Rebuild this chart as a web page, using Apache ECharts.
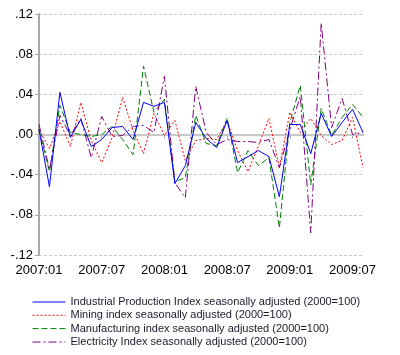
<!DOCTYPE html>
<html>
<head>
<meta charset="utf-8">
<script src="https://cdn.jsdelivr.net/npm/echarts@6/dist/echarts.min.js"></script>
<style>
html,body{margin:0;padding:0;background:#fff;}
#c{width:400px;height:355px;}
</style>
</head>
<body>
<div id="c"></div>
<script>
// Monthly periods 2007:01 .. 2009:08
const months = [
  "2007:01","2007:02","2007:03","2007:04","2007:05","2007:06","2007:07","2007:08","2007:09","2007:10","2007:11","2007:12",
  "2008:01","2008:02","2008:03","2008:04","2008:05","2008:06","2008:07","2008:08","2008:09","2008:10","2008:11","2008:12",
  "2009:01","2009:02","2009:03","2009:04","2009:05","2009:06","2009:07","2009:08"
];
const industrial = [0.005,-0.052,0.042,-0.003,0.015,-0.012,-0.005,0.007,0.008,-0.005,0.032,0.028,
  0.032,-0.049,-0.031,0.012,-0.004,-0.013,0.014,-0.028,-0.022,-0.016,-0.022,-0.062,
  0.010,0.010,-0.019,0.021,-0.002,0.012,0.025,0.002];
const mining = [0.005,-0.014,0.013,-0.012,0.032,-0.006,-0.028,-0.003,0.037,0.004,-0.019,0.021,
  -0.001,0.014,-0.026,-0.006,-0.004,-0.005,0.014,-0.016,-0.037,-0.011,0.016,-0.033,
  0.022,0.002,0.016,-0.001,-0.010,-0.006,0.017,-0.033];
const manufacturing = [0.005,-0.037,0.029,0.002,0.000,-0.002,0.000,0.008,-0.005,-0.020,0.068,0.022,
  0.035,-0.047,-0.043,0.019,-0.009,-0.011,0.016,-0.038,-0.016,-0.031,-0.023,-0.093,
  0.012,0.049,-0.050,0.026,-0.001,0.017,0.030,0.017];
const electricity = [0.010,-0.035,0.019,-0.001,0.016,-0.023,0.018,-0.002,-0.001,0.008,0.009,0.002,
  0.058,-0.048,-0.063,0.048,0.002,-0.010,-0.005,-0.007,-0.007,-0.008,-0.005,-0.033,
  0.005,0.038,-0.098,0.111,0.007,0.036,0.000,0.002];
const seriesNames = [
  "Industrial Production Index seasonally adjusted (2000=100)",
  "Mining index seasonally adjusted (2000=100)",
  "Manufacturing index seasonally adjusted (2000=100)",
  "Electricity Index seasonally adjusted (2000=100)"
];
const yTicks = {min: -0.12, max: 0.12, interval: 0.04};

function fmtY(v){
  const s = Math.abs(v).toFixed(2).replace(/^0/, "");
  return (v < -1e-9 ? "-" : "") + s;
}

const chart = echarts.init(document.getElementById('c'), null, {renderer:'canvas'});
const font = "'Liberation Sans', Arial, sans-serif";
function lineSeries(name, data, color, type, extra){
  return Object.assign({
    name: name, type: 'line', data: data, symbol: 'none', showSymbol: false,
    lineStyle: {color: color, width: 1, type: type},
    itemStyle: {color: color},
    animation: false, z: 3
  }, extra || {});
}
const legendTops = [296, 309.3, 322.6, 336];
const legends = seriesNames.map(function(n, i){
  return {
    orient: 'vertical', left: 32, top: legendTops[i], padding: 0,
    itemWidth: 33, itemHeight: 11, itemGap: 0, itemTextGap: 6,
    itemStyle: {opacity: 0},
    lineStyle: {width: 1},
    textStyle: {fontSize: 11, lineHeight: 12, fontFamily: font, color: '#1a1a2a'},
    data: [n]
  };
});
chart.setOption({
  animation: false,
  backgroundColor: '#fff',
  grid: {left: 39, right: 37, top: 14, bottom: 100, containLabel: false},
  xAxis: {
    type: 'category', data: months, boundaryGap: false,
    axisLine: {lineStyle: {color: '#a8a8a8', width: 2}},
    axisTick: {show: true, interval: 5, length: 4, lineStyle: {color: '#a8a8a8', width: 1}},
    axisLabel: {interval: 5, color: '#000', fontSize: 13, fontFamily: font, margin: 9},
    splitLine: {show: false}
  },
  yAxis: {
    type: 'value', min: yTicks.min, max: yTicks.max, interval: yTicks.interval,
    axisLine: {show: true, onZero: false, lineStyle: {color: '#a8a8a8', width: 2}},
    axisTick: {show: true, length: 4, lineStyle: {color: '#a8a8a8', width: 1}},
    axisLabel: {color: '#000', fontSize: 13, fontFamily: font, margin: 6, formatter: fmtY},
    splitLine: {show: true, lineStyle: {color: '#c8c8c8', type: [3,2], width: 1}}
  },
  legend: legends,
  series: [
    lineSeries(seriesNames[0], industrial, '#0000ff', 'solid', {
      z: 4,
      markLine: {
        silent: true, symbol: 'none', label: {show: false}, animation: false,
        lineStyle: {color: '#c8c8c8', width: 2, type: 'solid'},
        data: [{yAxis: 0}], z: 1
      }
    }),
    lineSeries(seriesNames[1], mining, '#ff0000', [2,2]),
    lineSeries(seriesNames[2], manufacturing, '#008000', [6,3]),
    lineSeries(seriesNames[3], electricity, '#800080', [8,3,2,3])
  ]
});
</script>
</body>
</html>
